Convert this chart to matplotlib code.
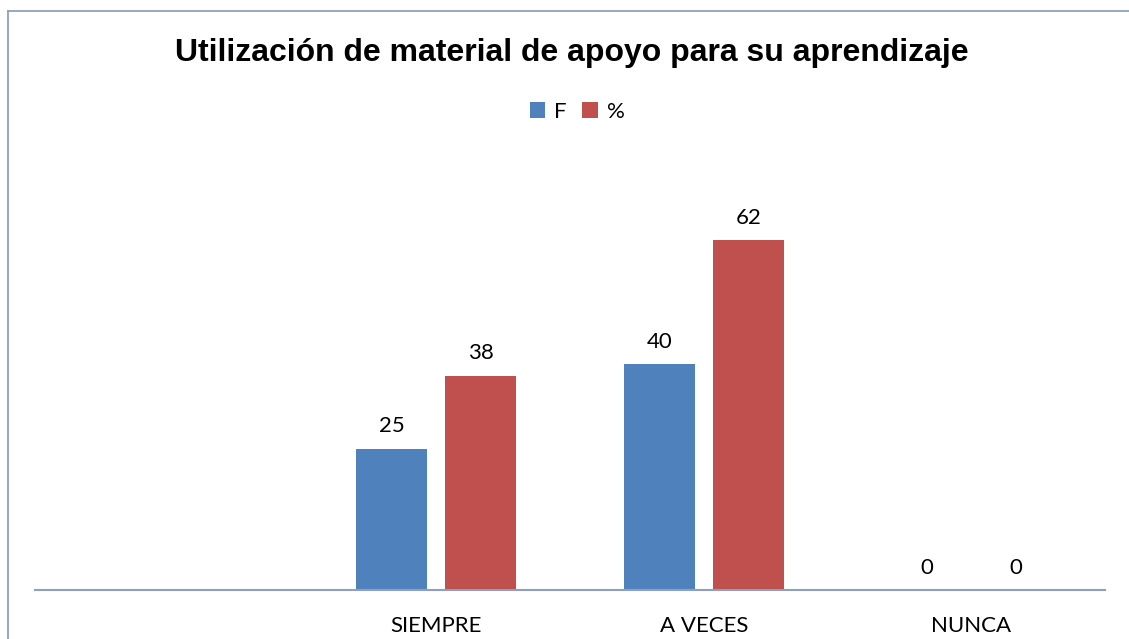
import matplotlib
matplotlib.use("Agg")
from matplotlib import pyplot as plt
from matplotlib.lines import Line2D
import numpy as np

categories = ["", "SIEMPRE", "A VECES", "NUNCA"]
f_values = [np.nan, 25, 40, 0]
pct_values = [np.nan, 38, 62, 0]
series_names = ["F", "%"]

blue = "#4F81BD"
red = "#C0504D"
label_font = "Lato"
W, H = 1129, 639

fig = plt.figure(figsize=(W / 100, H / 100), dpi=100)
# chart border: only the top and left edges show in the original
border = "#8EA0BE"
fig.lines.append(Line2D([8 / W, 8 / W], [0, 1 - 10.5 / H], transform=fig.transFigure,
                        color=border, linewidth=1.3))
fig.lines.append(Line2D([8 / W, 1], [1 - 10.5 / H, 1 - 10.5 / H], transform=fig.transFigure,
                        color=border, linewidth=1.3))

ax = fig.add_axes([35 / W, 49 / H, (1105 - 35) / W, (590 - 195) / H])
x = np.arange(len(categories))
w = 0.266
off = 0.1667
b1 = ax.bar(x - off, f_values, w, color=blue, label=series_names[0])
b2 = ax.bar(x + off, pct_values, w, color=red, label=series_names[1])

for bars, vals in ((b1, f_values), (b2, pct_values)):
    for rect, v in zip(bars, vals):
        if np.isnan(v):
            continue
        ax.annotate(f"{int(v)}", (rect.get_x() + rect.get_width() / 2, v),
                    xytext=(0, 9), textcoords="offset points",
                    ha="center", va="bottom", fontsize=16,
                    family=label_font)

ax.set_xlim(-0.5, len(categories) - 0.5)
ax.set_ylim(0, 70)
ax.set_xticks(x)
ax.set_xticklabels(categories, fontsize=16, family=label_font)
ax.tick_params(axis="x", length=0, pad=19)
ax.set_yticks([])
for s in ("top", "right", "left"):
    ax.spines[s].set_visible(False)
ax.spines["bottom"].set_color(border)
ax.spines["bottom"].set_linewidth(1.5)

fig.text(572 / W, 1 - 53 / H, "Utilización de material de apoyo para su aprendizaje",
         ha="center", va="center", fontsize=23, fontweight="bold",
         family="Liberation Sans")

fig.legend(handles=[b1, b2], loc="center", bbox_to_anchor=(577 / W, 1 - 112 / H),
           ncol=2, frameon=False, prop={"family": label_font, "size": 16},
           handlelength=0.7, handleheight=0.7, handletextpad=0.4, columnspacing=0.7)

fig.savefig("out.png", dpi=100)
